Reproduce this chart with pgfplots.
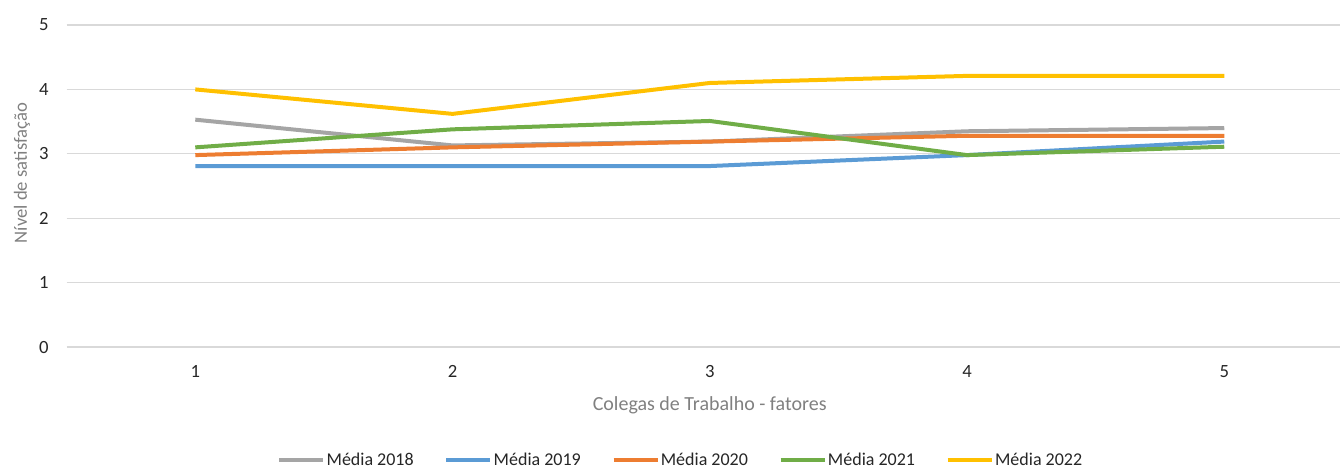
\documentclass[border=0pt]{standalone}
\usepackage{fontspec}
\setmainfont{Carlito}
\usepackage{pgfplots}
\pgfplotsset{compat=1.18}
\definecolor{c18}{HTML}{A5A5A5}
\definecolor{c19}{HTML}{5B9BD5}
\definecolor{c20}{HTML}{ED7D31}
\definecolor{c21}{HTML}{70AD47}
\definecolor{c22}{HTML}{FFC000}
\definecolor{tick}{HTML}{262626}
\definecolor{lab}{HTML}{808080}
\begin{document}
\begin{tikzpicture}
\useasboundingbox (-50pt,-91.5pt) rectangle (956.5pt,260.25pt);
\begin{axis}[
  at={(0,0)}, anchor=south west,
  scale only axis, width=955pt, height=241.5pt,
  xmin=0.5, xmax=5.45, ymin=0, ymax=5,
  xtick={1,2,3,4,5}, ytick={0,1,2,3,4,5},
  axis line style={draw=none},
  major tick length=0pt,
  ymajorgrids, grid style={gray!30, line width=0.9pt},
  tick label style={font=\fontsize{14}{16}\selectfont, text=tick},
  /pgf/number format/assume math mode=true,
  xticklabel style={yshift=-10pt},
  yticklabel style={xshift=-10pt},
  xlabel={Colegas de Trabalho - fatores},
  ylabel={Nível de satisfação},
  label style={text=lab},
  xlabel style={font=\fontsize{15}{17}\selectfont, at={(axis description cs:0.505,0)}, anchor=center, yshift=-43.5pt},
  ylabel style={font=\fontsize{14}{16}\selectfont, at={(axis description cs:0,0.54)}, anchor=center, rotate=0, yshift=33.5pt},
  legend columns=5,
  legend style={draw=none, at={(axis description cs:0.482,0)}, anchor=center, yshift=-85pt,
    font=\fontsize{13.5}{15}\selectfont, text=tick, nodes={inner xsep=1pt},
    /tikz/every even column/.append style={column sep=22pt}},
  legend image code/.code={\draw[#1, line width=3pt] (0pt,0pt) -- (33pt,0pt);},
  every axis plot/.append style={line width=3pt, line join=round, mark=none},
]
\addplot[c18] coordinates {(1,3.53) (2,3.13) (3,3.19) (4,3.35) (5,3.40)};
\addplot[c19] coordinates {(1,2.81) (2,2.81) (3,2.81) (4,2.98) (5,3.19)};
\addplot[c20] coordinates {(1,2.98) (2,3.10) (3,3.19) (4,3.28) (5,3.28)};
\addplot[c21] coordinates {(1,3.10) (2,3.38) (3,3.51) (4,2.98) (5,3.11)};
\addplot[c22] coordinates {(1,4.00) (2,3.62) (3,4.10) (4,4.21) (5,4.21)};
\legend{Média 2018, Média 2019, Média 2020, Média 2021, Média 2022}
\end{axis}
\end{tikzpicture}
\end{document}
